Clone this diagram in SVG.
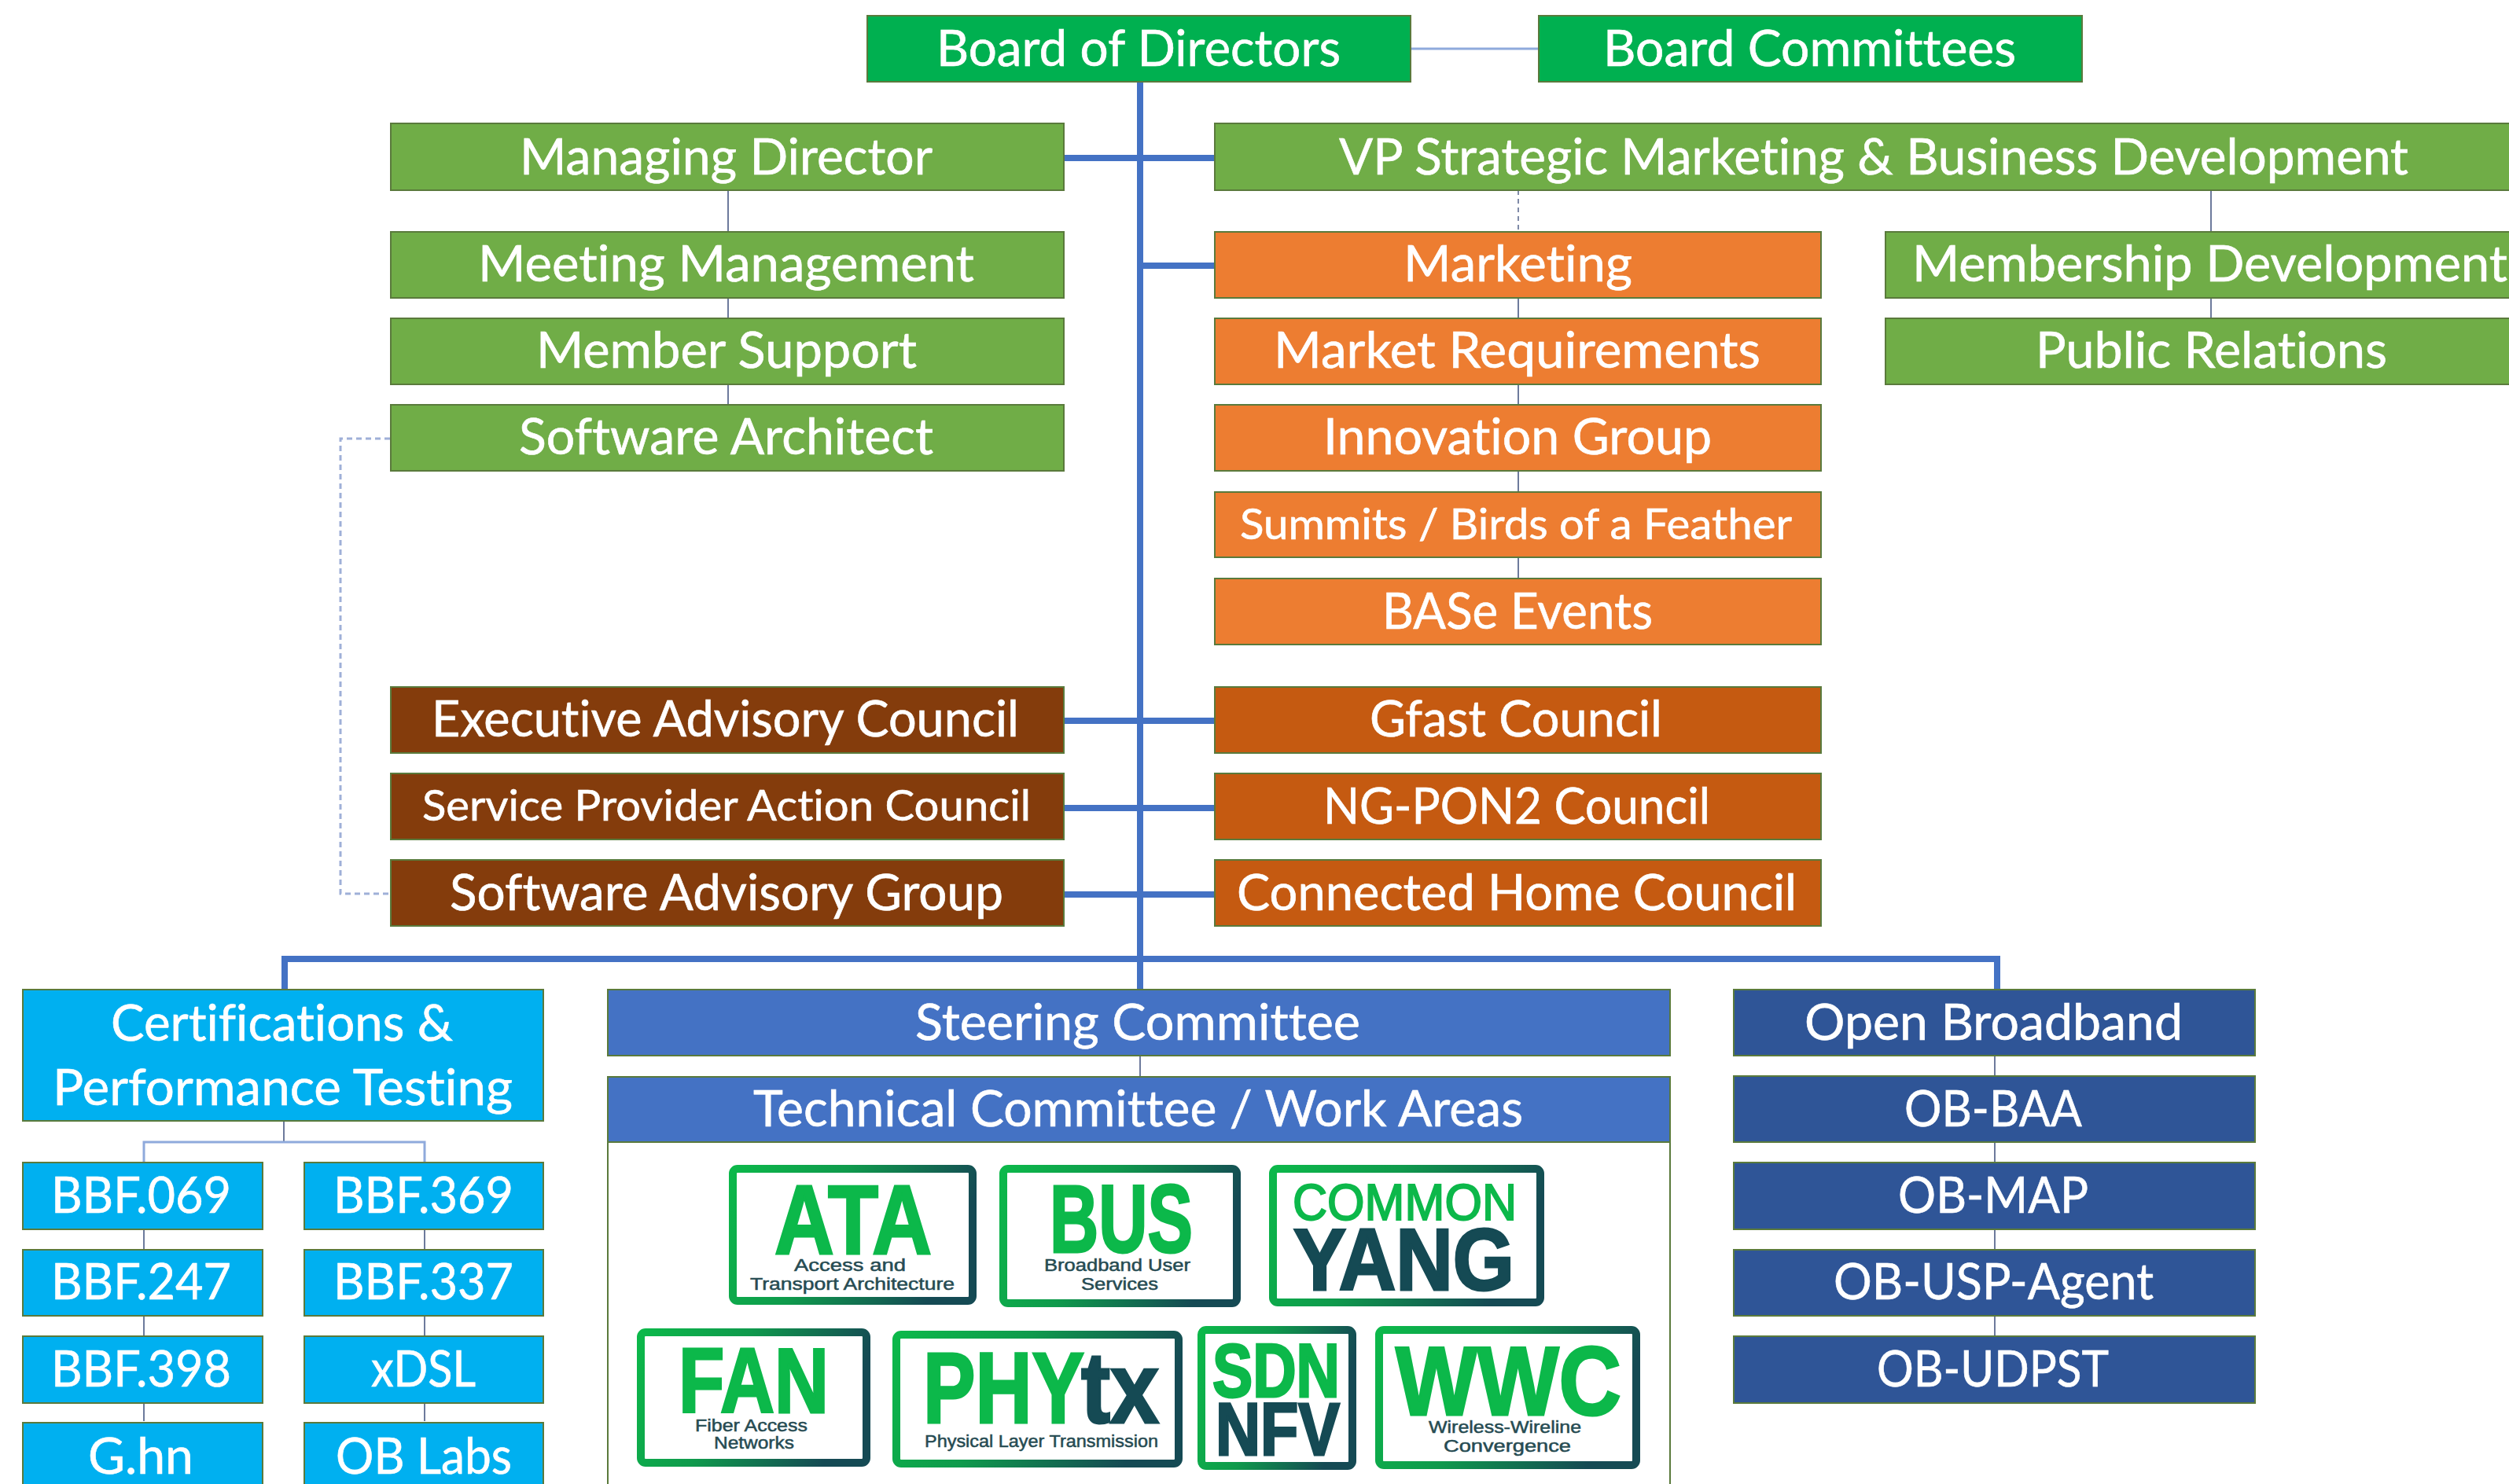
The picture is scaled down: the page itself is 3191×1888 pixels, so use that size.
<svg xmlns="http://www.w3.org/2000/svg" width="3191" height="1888" viewBox="0 0 3191 1888">
<style>
.n{stroke:#5a7a3c;stroke-width:2}
.t{font-family:Lato,"Open Sans",sans-serif;font-size:63px;fill:#fff;stroke:#fff;stroke-width:.6;font-variant-ligatures:none}
.s{font-size:54px}
.c1{fill:#00b050}.c2{fill:#70ad47}.c3{fill:#ed7d31}.c4{fill:#843c0c}.c5{fill:#c55a11}.c6{fill:#00b0f0}.c7{fill:#4472c4}.c8{fill:#2f5597}
.thick{stroke:#4472c4;stroke-width:8;fill:none}
.thin{stroke:#6d7a9c;stroke-width:2;fill:none}
.light{stroke:#8faadc;stroke-width:3;fill:none}
.dash{stroke:#7f8aa8;stroke-width:2;fill:none;stroke-dasharray:6 5}
.dash2{stroke:#9fb0d8;stroke-width:3;fill:none;stroke-dasharray:7 5}
.frame{fill:#fff;stroke:url(#lg);stroke-width:10}
.lt{font-family:"Liberation Sans",Arial,sans-serif;font-weight:700;fill:#0cb84a;stroke:#0cb84a;stroke-width:3}
.thinlt{font-weight:400;stroke-width:2}
.dk{fill:#154a54;stroke:#154a54}
.sub{font-family:"Liberation Sans",Arial,sans-serif;font-size:22px;fill:#264b52;stroke:#264b52;stroke-width:.5}
</style>
<defs>
<linearGradient id="lg" x1="0" y1="0" x2="1" y2="0.25"><stop offset="0" stop-color="#0cb84a"/><stop offset="0.45" stop-color="#0f9a4c"/><stop offset="1" stop-color="#154a54"/></linearGradient>
</defs>
<rect width="3191" height="1888" fill="#fff"/>
<g id="connectors">
<path class="light" d="M1794 62H1956"/>
<path class="thick" d="M1450 104V1258M1354 201H1544M1450 338H1544M1354 917H1544M1354 1028H1544M1354 1138H1544M362 1258V1220H2540V1258"/>
<path class="thin" d="M926 242V294M926 379V404M926 489V514M1931 379V404M1931 489V514M1931 598V625M1931 708V735M2812 242V294M2812 379V404M1450 1344V1369M2537 1343V1368M2537 1453V1478M2537 1564V1589M2537 1674V1699M183 1564V1589M183 1674V1699M183 1785V1808M540 1564V1589M540 1674V1699M540 1785V1808M361 1426V1453"/>
<path class="light" d="M183 1478V1453H540V1478"/>
<path class="dash" d="M1931 242V294"/>
<path class="dash2" d="M496 558H433V1137H496"/>
</g>
<g id="board"><rect class="n c1" x="1103" y="20" width="691" height="84"/><text class="t" x="1191" y="84" textLength="514" lengthAdjust="spacingAndGlyphs">Board of Directors</text></g>
<g id="committees"><rect class="n c1" x="1957" y="20" width="691" height="84"/><text class="t" x="2039" y="84" textLength="525" lengthAdjust="spacingAndGlyphs">Board Committees</text></g>
<g id="md"><rect class="n c2" x="497" y="157" width="856" height="85"/><text class="t" x="661" y="222" textLength="525" lengthAdjust="spacingAndGlyphs">Managing Director</text></g>
<g id="vp"><rect class="n c2" x="1545" y="157" width="1660" height="85"/><text class="t" x="1703" y="222" textLength="1360" lengthAdjust="spacingAndGlyphs">VP Strategic Marketing &amp; Business Development</text></g>
<g id="meeting"><rect class="n c2" x="497" y="295" width="856" height="84"/><text class="t" x="608" y="358" textLength="631" lengthAdjust="spacingAndGlyphs">Meeting Management</text></g>
<g id="member"><rect class="n c2" x="497" y="405" width="856" height="84"/><text class="t" x="682" y="468" textLength="484" lengthAdjust="spacingAndGlyphs">Member Support</text></g>
<g id="architect"><rect class="n c2" x="497" y="515" width="856" height="84"/><text class="t" x="660" y="578" textLength="527" lengthAdjust="spacingAndGlyphs">Software Architect</text></g>
<g id="marketing"><rect class="n c3" x="1545" y="295" width="771" height="84"/><text class="t" x="1785" y="358" textLength="291" lengthAdjust="spacingAndGlyphs">Marketing</text></g>
<g id="requirements"><rect class="n c3" x="1545" y="405" width="771" height="84"/><text class="t" x="1620" y="468" textLength="619" lengthAdjust="spacingAndGlyphs">Market Requirements</text></g>
<g id="innovation"><rect class="n c3" x="1545" y="515" width="771" height="84"/><text class="t" x="1683" y="578" textLength="494" lengthAdjust="spacingAndGlyphs">Innovation Group</text></g>
<g id="summits"><rect class="n c3" x="1545" y="626" width="771" height="83"/><text class="t s" x="1577" y="686" textLength="702" lengthAdjust="spacingAndGlyphs">Summits / Birds of a Feather</text></g>
<g id="base"><rect class="n c3" x="1545" y="736" width="771" height="84"/><text class="t" x="1758" y="800" textLength="344" lengthAdjust="spacingAndGlyphs">BASe Events</text></g>
<g id="membership"><rect class="n c2" x="2398" y="295" width="810" height="84"/><text class="t" x="2432" y="358" textLength="757" lengthAdjust="spacingAndGlyphs">Membership Development</text></g>
<g id="pr"><rect class="n c2" x="2398" y="405" width="810" height="84"/><text class="t" x="2589" y="468" textLength="447" lengthAdjust="spacingAndGlyphs">Public Relations</text></g>
<g id="exec"><rect class="n c4" x="497" y="874" width="856" height="84"/><text class="t" x="549" y="937" textLength="747" lengthAdjust="spacingAndGlyphs">Executive Advisory Council</text></g>
<g id="spac"><rect class="n c4" x="497" y="984" width="856" height="84"/><text class="t s" x="537" y="1044" textLength="774" lengthAdjust="spacingAndGlyphs">Service Provider Action Council</text></g>
<g id="sag"><rect class="n c4" x="497" y="1094" width="856" height="84"/><text class="t" x="572" y="1158" textLength="704" lengthAdjust="spacingAndGlyphs">Software Advisory Group</text></g>
<g id="gfast"><rect class="n c5" x="1545" y="874" width="771" height="84"/><text class="t" x="1742" y="937" textLength="372" lengthAdjust="spacingAndGlyphs">Gfast Council</text></g>
<g id="ngpon"><rect class="n c5" x="1545" y="984" width="771" height="84"/><text class="t" x="1683" y="1048" textLength="492" lengthAdjust="spacingAndGlyphs">NG-PON2 Council</text></g>
<g id="home"><rect class="n c5" x="1545" y="1094" width="771" height="84"/><text class="t" x="1573" y="1158" textLength="712" lengthAdjust="spacingAndGlyphs">Connected Home Council</text></g>
<g id="cert"><rect class="n c6" x="29" y="1259" width="662" height="167"/><text class="t" x="141" y="1324" textLength="435" lengthAdjust="spacingAndGlyphs">Certifications &amp;</text><text class="t" x="67" y="1406" textLength="585" lengthAdjust="spacingAndGlyphs">Performance Testing</text></g>
<g id="b069"><rect class="n c6" x="29" y="1479" width="305" height="85"/><text class="t" x="65" y="1543" textLength="229" lengthAdjust="spacingAndGlyphs">BBF.069</text></g>
<g id="b247"><rect class="n c6" x="29" y="1590" width="305" height="84"/><text class="t" x="65" y="1653" textLength="229" lengthAdjust="spacingAndGlyphs">BBF.247</text></g>
<g id="b398"><rect class="n c6" x="29" y="1700" width="305" height="85"/><text class="t" x="65" y="1764" textLength="229" lengthAdjust="spacingAndGlyphs">BBF.398</text></g>
<g id="ghn"><rect class="n c6" x="29" y="1810" width="305" height="90"/><text class="t" x="112" y="1875" textLength="134" lengthAdjust="spacingAndGlyphs">G.hn</text></g>
<g id="b369"><rect class="n c6" x="387" y="1479" width="304" height="85"/><text class="t" x="424" y="1543" textLength="229" lengthAdjust="spacingAndGlyphs">BBF.369</text></g>
<g id="b337"><rect class="n c6" x="387" y="1590" width="304" height="84"/><text class="t" x="424" y="1653" textLength="229" lengthAdjust="spacingAndGlyphs">BBF.337</text></g>
<g id="xdsl"><rect class="n c6" x="387" y="1700" width="304" height="85"/><text class="t" x="472" y="1764" textLength="133" lengthAdjust="spacingAndGlyphs">xDSL</text></g>
<g id="oblabs"><rect class="n c6" x="387" y="1810" width="304" height="90"/><text class="t" x="427" y="1875" textLength="224" lengthAdjust="spacingAndGlyphs">OB Labs</text></g>
<g id="steering"><rect class="n c7" x="773" y="1259" width="1351" height="84"/><text class="t" x="1164" y="1323" textLength="566" lengthAdjust="spacingAndGlyphs">Steering Committee</text></g>
<g id="technical"><rect x="773" y="1370" width="1351" height="540" fill="#fff" class="n"/><rect class="n c7" x="773" y="1370" width="1351" height="83"/><text class="t" x="958" y="1433" textLength="979" lengthAdjust="spacingAndGlyphs">Technical Committee / Work Areas</text></g>
<g id="ob"><rect class="n c8" x="2205" y="1259" width="663" height="84"/><text class="t" x="2295" y="1323" textLength="481" lengthAdjust="spacingAndGlyphs">Open Broadband</text></g>
<g id="obbaa"><rect class="n c8" x="2205" y="1369" width="663" height="84"/><text class="t" x="2422" y="1433" textLength="226" lengthAdjust="spacingAndGlyphs">OB-BAA</text></g>
<g id="obmap"><rect class="n c8" x="2205" y="1479" width="663" height="85"/><text class="t" x="2414" y="1543" textLength="242" lengthAdjust="spacingAndGlyphs">OB-MAP</text></g>
<g id="obusp"><rect class="n c8" x="2205" y="1590" width="663" height="84"/><text class="t" x="2332" y="1653" textLength="407" lengthAdjust="spacingAndGlyphs">OB-USP-Agent</text></g>
<g id="obudpst"><rect class="n c8" x="2205" y="1700" width="663" height="85"/><text class="t" x="2387" y="1764" textLength="295" lengthAdjust="spacingAndGlyphs">OB-UDPST</text></g>
<g id="ata"><rect class="frame" x="932" y="1487" width="305" height="168" rx="6"/><text class="lt" x="985" y="1595" font-size="125" textLength="200" lengthAdjust="spacingAndGlyphs">ATA</text><text class="sub" x="1010" y="1617" textLength="142" lengthAdjust="spacingAndGlyphs">Access and</text><text class="sub" x="954" y="1641" textLength="260" lengthAdjust="spacingAndGlyphs">Transport Architecture</text></g>
<g id="bus"><rect class="frame" x="1276" y="1487" width="297" height="171" rx="6"/><text class="lt" x="1335" y="1593" font-size="122" textLength="182" lengthAdjust="spacingAndGlyphs">BUS</text><text class="sub" x="1328" y="1617" textLength="186" lengthAdjust="spacingAndGlyphs">Broadband User</text><text class="sub" x="1375" y="1641" textLength="98" lengthAdjust="spacingAndGlyphs">Services</text></g>
<g id="yang"><rect class="frame" x="1619" y="1487" width="340" height="170" rx="6"/><text class="lt thinlt" x="1644" y="1552" font-size="65" textLength="285" lengthAdjust="spacingAndGlyphs">COMMON</text><text class="lt dk" x="1645" y="1641" font-size="111" textLength="281" lengthAdjust="spacingAndGlyphs">YANG</text></g>
<g id="fan"><rect class="frame" x="815" y="1695" width="287" height="166" rx="6"/><text class="lt" x="863" y="1797" font-size="117" textLength="191" lengthAdjust="spacingAndGlyphs">FAN</text><text class="sub" x="884" y="1821" textLength="143" lengthAdjust="spacingAndGlyphs">Fiber Access</text><text class="sub" x="908" y="1843" textLength="102" lengthAdjust="spacingAndGlyphs">Networks</text></g>
<g id="phy"><rect class="frame" x="1140" y="1698" width="359" height="164" rx="6"/><text class="lt" x="1174" y="1810" font-size="128" textLength="205" lengthAdjust="spacingAndGlyphs">PHY</text><text class="lt dk" x="1375" y="1810" font-size="128" textLength="99" lengthAdjust="spacingAndGlyphs">tx</text><text class="sub" x="1176" y="1841" textLength="297" lengthAdjust="spacingAndGlyphs">Physical Layer Transmission</text></g>
<g id="sdn"><rect class="frame" x="1528" y="1692" width="192" height="173" rx="6"/><text class="lt" x="1542" y="1777" font-size="96" textLength="162" lengthAdjust="spacingAndGlyphs">SDN</text><text class="lt dk" x="1546" y="1851" font-size="95" textLength="158" lengthAdjust="spacingAndGlyphs">NFV</text></g>
<g id="wwc"><rect class="frame" x="1754" y="1692" width="327" height="172" rx="6"/><text class="lt" x="1775" y="1800" font-size="125" textLength="287" lengthAdjust="spacingAndGlyphs">WWC</text><text class="sub" x="1817" y="1823" textLength="194" lengthAdjust="spacingAndGlyphs">Wireless-Wireline</text><text class="sub" x="1836" y="1847" textLength="162" lengthAdjust="spacingAndGlyphs">Convergence</text></g>
</svg>
